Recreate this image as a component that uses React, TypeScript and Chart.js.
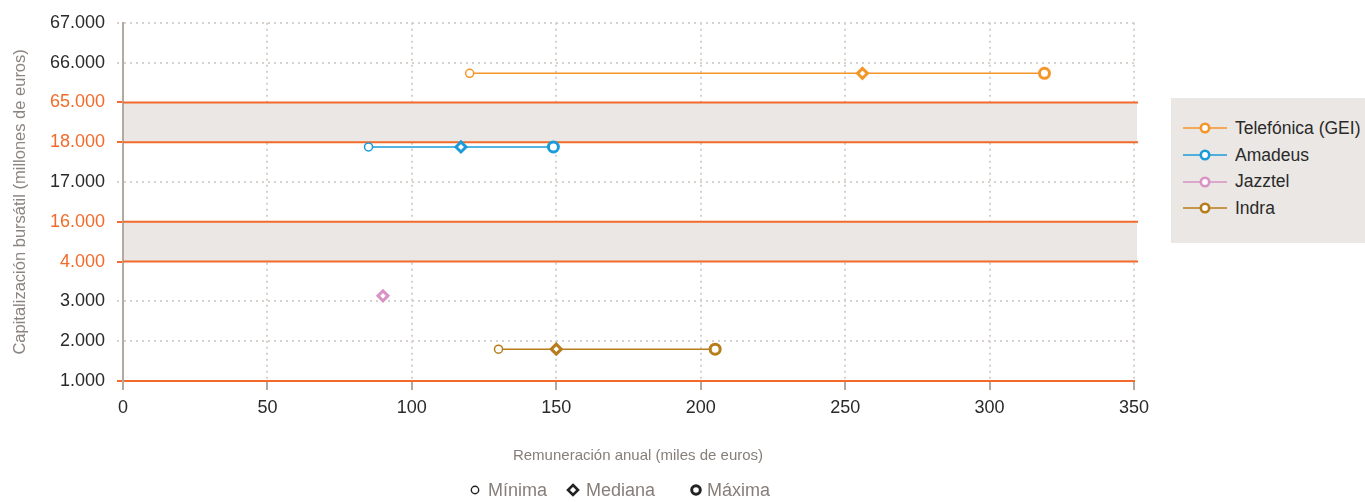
import React, { useEffect, useRef } from 'react';
import { Chart, registerables } from 'chart.js';

Chart.register(...registerables);

// ---------- data ----------
const companies = ['Telefónica (GEI)', 'Amadeus', 'Jazztel', 'Indra'];
const seriesColors = ['#f4962a', '#1b9bd8', '#d892c4', '#b77c1b'];
const marketCap = [65730, 17880, 3140, 1800]; // millones de euros
const payMin: (number | null)[] = [120, 85, null, 130]; // miles de euros
const payMedian: (number | null)[] = [256, 117, 90, 150];
const payMax: (number | null)[] = [319, 149, null, 205];
const yTickValues = [1000, 2000, 3000, 4000, 16000, 17000, 18000, 65000, 66000, 67000];
const yBreaks: [number, number][] = [
  [4000, 16000],
  [18000, 65000],
];
const xTickValues = [0, 50, 100, 150, 200, 250, 300, 350];
const markerNames = ['Mínima', 'Mediana', 'Máxima'];
const yTitle = 'Capitalización bursátil (millones de euros)';
const xTitle = 'Remuneración anual (miles de euros)';

// ---------- styling ----------
const FONT = '"Liberation Sans", Arial, Helvetica, sans-serif';
const BREAK_COLOR = '#f26b2a';
const BAND_COLOR = '#ebe7e4';
const GRID_COLOR = '#d6d1cd';
const AXIS_COLOR = '#b3a9a2';
const TEXT_DARK = '#2a2a2a';
const TEXT_GRAY = '#867e79';

const fmt = (v: number) => String(v).replace(/\B(?=(\d{3})+(?!\d))/g, '.');

// map a real value onto the broken (segmented) axis
const toAxis = (v: number) => {
  for (let i = 0; i < yTickValues.length - 1; i++) {
    if (v <= yTickValues[i + 1]) {
      return i + (v - yTickValues[i]) / (yTickValues[i + 1] - yTickValues[i]);
    }
  }
  return yTickValues.length - 1;
};

const breakEdges = new Set<number>(yBreaks.flat());
const isBreakIndex = (i: number) => breakEdges.has(yTickValues[i]);
const isLineIndex = (i: number) => i === 0 || isBreakIndex(i);

const breakPlugin = {
  id: 'breakBands',
  beforeDatasetsDraw(chart: any) {
    const { ctx, chartArea, scales } = chart;
    const y = scales.y;
    ctx.save();
    yBreaks.forEach(([a, b]) => {
      const yTop = y.getPixelForValue(toAxis(b));
      const yBot = y.getPixelForValue(toAxis(a));
      ctx.fillStyle = BAND_COLOR;
      ctx.fillRect(chartArea.left + 1, yTop, chartArea.right + 3 - chartArea.left - 1, yBot - yTop);
      ctx.strokeStyle = BREAK_COLOR;
      ctx.lineWidth = 2;
      [yTop, yBot].forEach((py) => {
        ctx.beginPath();
        ctx.moveTo(chartArea.left, py);
        ctx.lineTo(chartArea.right + 4, py);
        ctx.stroke();
      });
    });
    ctx.restore();
  },
};

const pointStyles = ['circle', 'rectRot', 'circle'];
const pointRadii = [4, 5, 5];
const pointBorders = [1.5, 3, 3];

function buildDatasets() {
  return companies.map((name, i) => {
    const yv = toAxis(marketCap[i]);
    const pts: { x: number; y: number; k: number }[] = [];
    [payMin[i], payMedian[i], payMax[i]].forEach((x, k) => {
      if (x !== null) pts.push({ x, y: yv, k });
    });
    return {
      label: name,
      data: pts,
      showLine: true,
      borderColor: seriesColors[i],
      borderWidth: 1.5,
      pointBackgroundColor: '#ffffff',
      pointBorderColor: seriesColors[i],
      pointStyle: (c: any) => (c.raw ? pointStyles[c.raw.k] : 'circle'),
      pointRadius: (c: any) => (c.raw ? pointRadii[c.raw.k] : 4),
      pointBorderWidth: (c: any) => (c.raw ? pointBorders[c.raw.k] : 2),
      pointHoverRadius: (c: any) => (c.raw ? pointRadii[c.raw.k] : 4),
    };
  });
}

function SeriesIcon({ color }: { color: string }) {
  return (
    <svg width={44} height={14} style={{ display: 'block' }}>
      <line x1={0} y1={7} x2={44} y2={7} stroke={color} strokeWidth={1.5} />
      <circle cx={22} cy={7} r={4.2} fill="#fff" stroke={color} strokeWidth={2.6} />
    </svg>
  );
}

function MarkerIcon({ k }: { k: number }) {
  return (
    <svg width={14} height={14} style={{ display: 'block' }}>
      {k === 0 && <circle cx={7} cy={7} r={3.7} fill="#fff" stroke="#222" strokeWidth={1.4} />}
      {k === 1 && (
        <polygon points="7,2 12,7 7,12 2,7" fill="#fff" stroke="#222" strokeWidth={2.6} />
      )}
      {k === 2 && <circle cx={7} cy={7} r={4.3} fill="#fff" stroke="#222" strokeWidth={3} />}
    </svg>
  );
}

const markerPos = [475, 573, 696];

export default function App() {
  const ref = useRef<HTMLCanvasElement>(null);

  useEffect(() => {
    document.body.style.margin = '0';
    const chart = new Chart(ref.current as HTMLCanvasElement, {
      type: 'scatter',
      data: { datasets: buildDatasets() as any },
      plugins: [breakPlugin],
      options: {
        responsive: false,
        animation: false,
        layout: { padding: { top: 22, right: 231, left: 0, bottom: 0 } },
        plugins: { legend: { display: false }, tooltip: { enabled: false } },
        scales: {
          x: {
            type: 'linear',
            min: xTickValues[0],
            max: xTickValues[xTickValues.length - 1],
            afterBuildTicks: (s: any) => {
              s.ticks = xTickValues.map((v) => ({ value: v }));
            },
            afterFit: (s: any) => {
              s.height = 121;
            },
            ticks: {
              font: { family: FONT, size: 18 },
              color: TEXT_DARK,
              padding: 7,
              maxRotation: 0,
            },
            grid: {
              color: (c: any) => (c.tick && c.tick.value === 0 ? 'rgba(0,0,0,0)' : GRID_COLOR),
              lineWidth: 2,
              tickLength: 9,
              tickColor: AXIS_COLOR,
              tickWidth: 2,
              tickBorderDash: [],
            } as any,
            border: { color: BREAK_COLOR, width: 2, dash: [2, 4] },
          },
          y: {
            type: 'linear',
            min: 0,
            max: yTickValues.length - 1,
            afterBuildTicks: (s: any) => {
              s.ticks = yTickValues.map((_, i) => ({ value: i }));
            },
            afterFit: (s: any) => {
              s.width = 123;
            },
            ticks: {
              font: { family: FONT, size: 18 },
              color: (c: any) => (isBreakIndex(c.tick.value) ? BREAK_COLOR : TEXT_DARK),
              padding: 12,
              callback: (v: any) => fmt(yTickValues[v as number]),
            },
            grid: {
              color: (c: any) =>
                c.tick && isLineIndex(c.tick.value) ? 'rgba(0,0,0,0)' : GRID_COLOR,
              lineWidth: 2,
              tickLength: 6,
              tickColor: (c: any) => (c.tick && isLineIndex(c.tick.value) ? BREAK_COLOR : GRID_COLOR),
              tickWidth: 2,
              tickBorderDash: (c: any) => (c.tick && isLineIndex(c.tick.value) ? [] : [2, 4]),
            } as any,
            border: { color: AXIS_COLOR, width: 2, dash: [2, 4] },
            title: {
              display: true,
              text: yTitle,
              color: '#8c8480',
              font: { family: FONT, size: 16.5 },
              padding: { top: 11, bottom: 0 },
            },
          },
        },
      } as any,
    });
    return () => chart.destroy();
  }, []);

  return (
    <div style={{ position: 'relative', width: 1365, height: 502, fontFamily: FONT, overflow: 'hidden' }}>
      <canvas ref={ref} width={1365} height={502} style={{ position: 'absolute', left: 0, top: 0 }} />

      {/* series legend */}
      <div
        style={{
          position: 'absolute',
          left: 1171,
          top: 98,
          width: 194,
          height: 145,
          background: BAND_COLOR,
          paddingTop: 17,
          boxSizing: 'border-box',
        }}
      >
        {companies.map((name, i) => (
          <div key={name} style={{ display: 'flex', alignItems: 'center', height: 26.7 }}>
            <div style={{ marginLeft: 12, width: 44 }}>
              <SeriesIcon color={seriesColors[i]} />
            </div>
            <span style={{ marginLeft: 8, fontSize: 17.5, color: TEXT_DARK, whiteSpace: 'nowrap' }}>{name}</span>
          </div>
        ))}
      </div>

      {/* x-axis title */}
      <div
        style={{
          position: 'absolute',
          left: 638,
          top: 446,
          transform: 'translateX(-50%)',
          fontSize: 15,
          color: TEXT_GRAY,
          whiteSpace: 'nowrap',
        }}
      >
        {xTitle}
      </div>

      {/* marker legend */}
      {markerNames.map((m, k) => (
        <div
          key={m}
          style={{
            position: 'absolute',
            left: markerPos[k] - 7,
            top: 480,
            height: 20,
            display: 'flex',
            alignItems: 'center',
            whiteSpace: 'nowrap',
          }}
        >
          <MarkerIcon k={k} />
          <span style={{ marginLeft: k === 2 ? 4 : 6, fontSize: 18, color: TEXT_GRAY }}>{m}</span>
        </div>
      ))}
    </div>
  );
}
